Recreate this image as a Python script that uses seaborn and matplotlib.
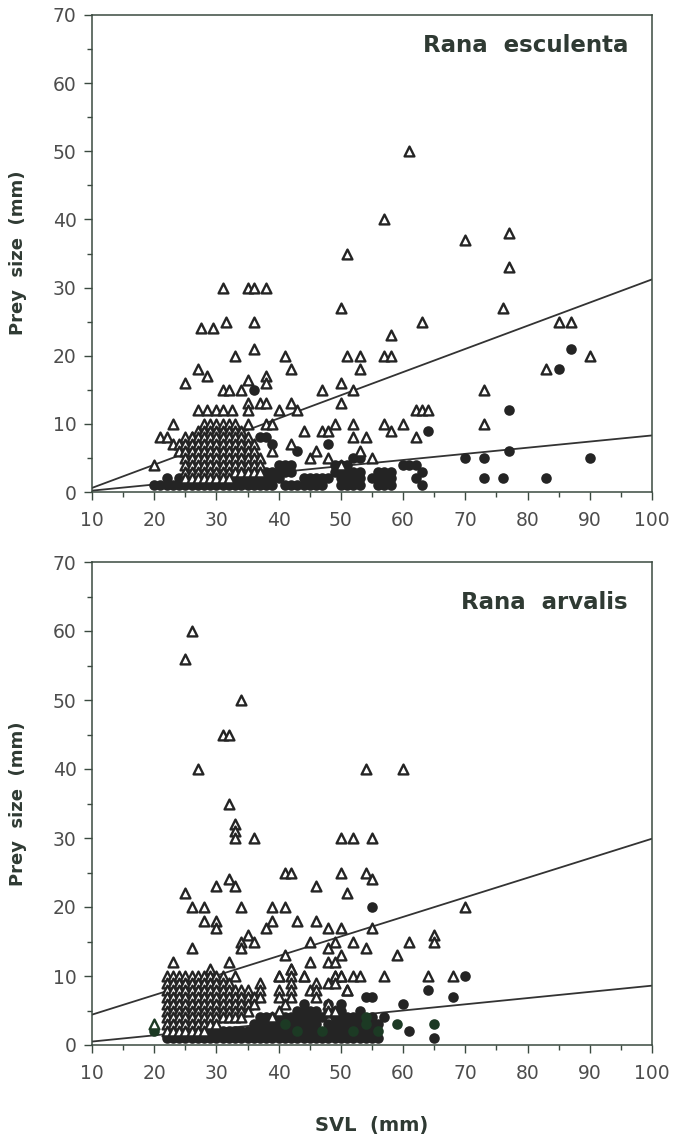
import matplotlib
matplotlib.use("Agg")
import numpy as np
import pandas as pd
import seaborn as sns
import matplotlib.pyplot as plt

# ---------------- DATA ----------------
x_ticks = [10, 20, 30, 40, 50, 60, 70, 80, 90, 100]
y_ticks = [0, 10, 20, 30, 40, 50, 60, 70]
line_x = [10, 100]

# Rana esculenta
esc_title = "Rana  esculenta"
esc_upper = [0.6, 31.2]
esc_lower = [0.2, 8.3]
esc_tri = [(61, 50), (57, 40), (70, 37), (77, 38), (51, 35), (77, 33),
           (31, 30), (35, 30), (36, 30), (38, 30), (50, 27), (76, 27),
           (27.5, 24), (29.5, 24), (31.5, 25), (36, 25), (63, 25), (85, 25), (87, 25),
           (58, 23), (36, 21), (33, 20), (41, 20), (51, 20), (53, 20), (57, 20), (58, 20), (90, 20),
           (27, 18), (42, 18), (53, 18), (83, 18), (28.5, 17), (38, 17),
           (25, 16), (35, 16.5), (38, 16), (50, 16),
           (31, 15), (32, 15), (34, 15), (47, 15), (52, 15), (73, 15),
           (27, 12), (28.5, 12), (30, 12), (31, 12), (32.5, 12), (35, 13), (35, 12), (37, 13),
           (38, 13), (40, 12), (42, 13), (43, 12), (50, 13), (62, 12), (63, 12), (64, 12),
           (23, 10), (38, 10), (39, 10), (49, 10), (52, 10), (57, 10), (60, 10), (73, 10),
           (21, 8), (22, 8), (26, 8), (44, 9), (47, 9), (48, 9), (52, 8), (54, 8), (58, 9), (62, 8),
           (23, 7), (42, 7), (20, 4), (39, 6), (45, 5), (46, 6), (48, 5), (53, 6), (55, 5), (50, 4)]
esc_tri_rows = [(10, [28, 29, 30, 31, 32, 33, 35]),
                (9, [27, 28, 29, 30, 31, 32, 33, 34]),
                (8, [25, 26, 27, 28, 29, 30, 31, 32, 33, 34, 35]),
                (7, [24, 25, 26, 27, 28, 29, 30, 31, 32, 33, 34, 35, 36]),
                (6, [24, 25, 26, 27, 28, 29, 30, 31, 32, 33, 34, 35, 36]),
                (5, [25, 26, 27, 28, 29, 30, 31, 32, 33, 34, 35, 36, 37]),
                (4, [25, 26, 27, 28, 29, 30, 31, 32, 33, 34, 35, 36, 37]),
                (3, [25, 26, 27, 28, 29, 30, 31, 32, 33, 34, 35, 36, 37]),
                (2, [25, 26, 27, 28, 29, 30, 31, 32])]
esc_circ = [(87, 21), (85, 18), (77, 12), (64, 9), (36, 15), (37, 8), (38, 8), (39, 7), (43, 6),
            (48, 7), (77, 6), (70, 5), (73, 5), (90, 5), (73, 2), (76, 2), (83, 2), (52, 5), (53, 5)]
esc_circ_rows = [(1, [20, 21, 22, 23, 24, 25, 26, 27, 28, 29, 30, 31, 32, 33, 34, 35, 36, 37, 38,
                      39, 41, 42, 43, 44, 45, 46, 47, 50, 51, 52, 53, 56, 57, 58, 63]),
                 (2, [22, 24, 33, 34, 35, 36, 37, 38, 39, 40, 44, 45, 46, 47, 48, 50, 51, 52, 53,
                      55, 56, 57, 58, 62]),
                 (3, [38, 39, 40, 41, 42, 49, 50, 51, 52, 53, 56, 57, 58, 63]),
                 (4, [40, 41, 42, 49, 50, 51, 60, 61, 62])]

# Rana arvalis
arv_title = "Rana  arvalis"
arv_upper = [4.4, 29.9]
arv_lower = [0.5, 8.6]
arv_tri = [(26, 60), (25, 56), (34, 50), (31, 45), (32, 45), (27, 40), (54, 40), (60, 40), (32, 35),
           (33, 32), (33, 31), (33, 30), (36, 30), (50, 30), (52, 30), (55, 30),
           (41, 25), (42, 25), (50, 25), (54, 25), (55, 24), (32, 24), (30, 23), (33, 23), (46, 23),
           (25, 22), (51, 22), (26, 20), (28, 20), (34, 20), (39, 20), (41, 20), (70, 20),
           (28, 18), (30, 18), (30, 17), (39, 18), (38, 17), (43, 18), (46, 18), (48, 17), (50, 17), (55, 17),
           (35, 16), (34, 15), (36, 15), (34, 14), (45, 15), (49, 15), (52, 15), (61, 15), (65, 16), (65, 15),
           (26, 14), (48, 14), (54, 14), (50, 13), (41, 13), (59, 13),
           (23, 12), (32, 12), (45, 12), (48, 12), (49, 12), (42, 11),
           (57, 10), (64, 10), (68, 10), (52, 10), (53, 10), (44, 10), (40, 10), (49, 10), (50, 10), (51, 8)]
arv_tri_rows = [(11, [29, 42]),
                (10, [22, 23, 24, 25, 26, 27, 28, 29, 30, 31, 33, 40, 42, 44, 49, 50]),
                (9, [22, 23, 24, 25, 26, 27, 28, 29, 30, 31, 32, 37, 42, 46, 48, 49]),
                (8, [22, 23, 24, 25, 26, 27, 28, 29, 30, 31, 32, 33, 34, 35, 37, 40, 42, 45, 46, 51]),
                (7, [22, 23, 24, 25, 26, 27, 28, 29, 30, 31, 32, 33, 34, 35, 36, 37, 40, 42, 46]),
                (6, [22, 23, 24, 25, 26, 27, 28, 29, 30, 31, 32, 33, 34, 35, 36, 41, 48]),
                (5, [22, 23, 24, 25, 26, 27, 28, 29, 30, 31, 32, 33, 34, 35, 40, 48, 49]),
                (4, [22, 23, 24, 25, 26, 27, 28, 29, 30, 31, 32, 33, 34, 39]),
                (3, [22, 23, 24, 25, 26, 27, 28, 29, 30]),
                (2, [22, 23, 24, 25, 26, 27, 28])]
arv_tri_green = [(20, 3)]
arv_circ = [(55, 20), (70, 10), (64, 8), (54, 7), (68, 7), (60, 6), (57, 4), (61, 2), (65, 1), (55, 7)]
arv_circ_rows = [(1, [22, 23, 24, 25, 26, 27, 28, 29, 30, 31, 32, 33, 34, 35, 36, 37, 38, 39, 40,
                      41, 42, 43, 44, 45, 46, 47, 48, 49, 50, 51, 52, 53, 54, 55, 56]),
                 (2, [29, 30, 31, 32, 33, 34, 35, 36, 37, 38, 39, 40, 41, 42, 44, 45, 46, 48, 49,
                      50, 51, 53, 54, 55]),
                 (3, [36, 37, 38, 39, 40, 42, 43, 44, 45, 46, 48, 49, 50, 51, 52, 53, 55, 56]),
                 (4, [37, 38, 39, 40, 41, 42, 43, 44, 45, 46, 47, 49, 50, 51, 52, 53, 55]),
                 (5, [43, 44, 45, 46, 48, 49, 50, 53]),
                 (6, [44, 48, 50])]
arv_circ_green = [(59, 3), (65, 3), (20, 2), (41, 3), (43, 2), (47, 2), (52, 2), (54, 3), (56, 2), (54, 4)]

# ---------------- STYLE ----------------
sns.set_theme(style="ticks")
plt.rcParams["font.family"] = ["DejaVu Sans"]

SPINE = "#3b4a40"
MARK = "#242424"
GREEN = "#1c3a24"
TEXT = "#2f3a33"
TICKTXT = "#4d4d4d"
TRI_S = 50
TRI_LW = 1.7
CIRC_S = 58


def to_df(pairs, rows=None):
    xs = [p[0] for p in pairs]
    ys = [p[1] for p in pairs]
    if rows:
        for yv, xl in rows:
            for xv in xl:
                xs.append(xv)
                ys.append(yv)
    return pd.DataFrame({"svl": xs, "prey": ys})


fig = plt.figure(figsize=(6.73, 11.37), dpi=100)
W, H = 673, 1137
left, right = 92, 652
ax_top = fig.add_axes([left / W, 1 - 492 / H, (right - left) / W, (492 - 15) / H])
ax_bot = fig.add_axes([left / W, 1 - 1045 / H, (right - left) / W, (1045 - 562) / H])

panels = [
    (ax_top, esc_title, esc_upper, esc_lower, esc_tri, esc_tri_rows, [], esc_circ, esc_circ_rows, [], 0.937, 253),
    (ax_bot, arv_title, arv_upper, arv_lower, arv_tri, arv_tri_rows, arv_tri_green, arv_circ, arv_circ_rows,
     arv_circ_green, 0.917, 804),
]

for ax, title, up, lo, tri, tri_rows, tri_g, circ, circ_rows, circ_g, ty, ylab_y in panels:
    lines = pd.DataFrame({"svl": line_x, "up": up, "lo": lo})
    sns.lineplot(data=lines, x="svl", y="up", color="#333333", lw=1.3, ax=ax, zorder=1)
    sns.lineplot(data=lines, x="svl", y="lo", color="#333333", lw=1.3, ax=ax, zorder=1)

    dc = to_df(circ, circ_rows)
    sns.scatterplot(data=dc, x="svl", y="prey", marker="o", s=CIRC_S, color=MARK, linewidth=0,
                    ax=ax, zorder=2)
    if circ_g:
        dg = to_df(circ_g)
        sns.scatterplot(data=dg, x="svl", y="prey", marker="o", s=CIRC_S, color=GREEN, linewidth=0,
                        ax=ax, zorder=2)
    dt = to_df(tri, tri_rows)
    sns.scatterplot(data=dt, x="svl", y="prey", marker="^", s=TRI_S, color="white",
                    edgecolor=MARK, linewidth=TRI_LW, ax=ax, zorder=3)
    if tri_g:
        dtg = to_df(tri_g)
        sns.scatterplot(data=dtg, x="svl", y="prey", marker="^", s=TRI_S, color="white",
                        edgecolor=GREEN, linewidth=TRI_LW, ax=ax, zorder=3)

    ax.set_xlim(10, 100)
    ax.set_ylim(0, 70)
    ax.set_xticks(x_ticks)
    ax.set_xticklabels([str(v) for v in x_ticks])
    ax.set_yticks(y_ticks)
    ax.set_yticklabels([str(v) for v in y_ticks])
    ax.set_xticks(np.arange(15, 100, 10), minor=True)
    ax.set_yticks(np.arange(5, 70, 10), minor=True)
    ax.tick_params(axis="both", which="major", direction="out", length=6, width=1.0,
                   colors=SPINE, labelcolor=TICKTXT, labelsize=13.5)
    ax.tick_params(axis="both", which="minor", direction="out", length=3.5, width=1.0, colors=SPINE)
    ax.tick_params(axis="x", which="major", pad=8)
    ax.tick_params(axis="y", which="major", pad=5)
    ax.set_xlabel("")
    ax.set_ylabel("")
    for sp in ax.spines.values():
        sp.set_color(SPINE)
        sp.set_linewidth(1.1)
        sp.set_visible(True)
    ax.text(0.957, ty, title, transform=ax.transAxes, ha="right", va="center",
            fontsize=16.5, fontweight="bold", color=TEXT)
    fig.text(18 / W, 1 - ylab_y / H, "Prey  size  (mm)", rotation=90, ha="center", va="center",
             fontsize=13, fontweight="bold", color=TEXT)

fig.text(372 / W, 1 - 1125 / H, "SVL  (mm)", ha="center", va="center",
         fontsize=14, fontweight="bold", color=TEXT)

fig.savefig("out.png", dpi=100)
